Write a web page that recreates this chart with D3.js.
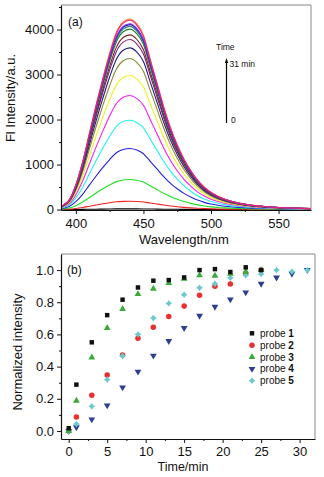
<!DOCTYPE html>
<html>
<head>
<meta charset="utf-8">
<script src="https://cdn.jsdelivr.net/npm/d3@7"></script>
<style>
  html, body { margin: 0; padding: 0; background: #fff; }
  svg text { font-family: Arial, "Liberation Sans", sans-serif; fill: #111; }
</style>
</head>
<body>
<svg id="chart" width="324" height="477"></svg>
<script>
// ---------- Panel (a) data: emission spectra ----------
const wavelengths = [389, 392, 395, 400, 405, 410, 415, 420, 425, 430, 435, 440, 445, 450, 455, 460, 465, 470, 475, 480, 485, 490, 495, 500, 505, 510, 520, 530, 540, 550, 560, 574];
// normalized band shape
const bandShape = [0.015, 0.03, 0.05, 0.13, 0.25, 0.40, 0.55, 0.69, 0.82, 0.93, 0.985, 1.0, 0.975, 0.915, 0.79, 0.665, 0.54, 0.43, 0.34, 0.265, 0.205, 0.155, 0.118, 0.09, 0.07, 0.055, 0.035, 0.023, 0.016, 0.011, 0.008, 0.005];
// peak intensity of each spectrum (t = 0 ... 31 min)
const peakIntensity = [15, 185, 667, 1356, 1985, 2533, 2978, 3356, 3593, 3778, 3881, 4010, 4070, 4110, 4235, 4130, 4205];
const spectrumColors = ["#000000", "#f02020", "#22dd22", "#2020dd", "#22f0f0", "#f020f0", "#f0f020", "#8a8a30", "#202080", "#802080", "#802020", "#208020", "#208080", "#2020a0", "#f08020", "#8020f0", "#f02080"];
const yTicksA = [0, 1000, 2000, 3000, 4000];
const xTicksA = [400, 450, 500, 550];

// ---------- Panel (b) data: normalized intensity vs time ----------
const times = [0, 1, 3, 5, 7, 9, 11, 13, 15, 17, 19, 21, 23, 25, 27, 29, 31];
const probe1 = [0.017, 0.288, 0.551, 0.72, 0.816, 0.892, 0.934, 0.938, 0.954, 1.0, 1.006, 0.988, 1.017, 1.0];
const probe2 = [0.0, 0.087, 0.222, 0.348, 0.472, 0.576, 0.644, 0.712, 0.776, 0.843, 0.899, 0.913, 0.98, 1.0];
const probe3 = [0.0, 0.188, 0.457, 0.64, 0.758, 0.851, 0.884, 0.919, 0.946, 0.967, 0.965, 0.977, 0.99, 1.0];
const probe4 = [0.0, 0.023, 0.072, 0.159, 0.271, 0.369, 0.468, 0.559, 0.64, 0.716, 0.772, 0.818, 0.861, 0.915, 0.954, 0.977, 1.0];
const probe5 = [0.0, 0.043, 0.153, 0.319, 0.466, 0.6, 0.702, 0.793, 0.847, 0.89, 0.915, 0.952, 0.967, 0.975, 1.0, 0.99, 1.0];
const probeNames = ["1", "2", "3", "4", "5"];
const probeColors = ["#111111", "#e8302e", "#3aaa3a", "#2c3e8e", "#6cc8cc"];
const yTicksB = [0.0, 0.2, 0.4, 0.6, 0.8, 1.0];
const xTicksB = [0, 5, 10, 15, 20, 25, 30];

const svg = d3.select("#chart");

function frame(g, x0, x1, y0, y1) {
  g.append("line").attr("x1", x0).attr("x2", x1).attr("y1", y0).attr("y2", y0).attr("stroke", "#888").attr("stroke-width", 1);
  g.append("line").attr("x1", x1).attr("x2", x1).attr("y1", y0).attr("y2", y1).attr("stroke", "#888").attr("stroke-width", 1);
}

function styleAxis(sel) {
  sel.selectAll(".domain").attr("stroke", "#111").attr("stroke-width", 1.2);
  sel.selectAll(".tick line").attr("stroke", "#111");
  sel.selectAll(".tick text").attr("font-size", 13).attr("font-family", "Arial, 'Liberation Sans', sans-serif").attr("fill", "#111");
}

// custom filled "plus/diamond" marker for probe 5
const plusDiamond = {
  draw(ctx, size) {
    const r = Math.sqrt(size) * 0.62, w = r * 0.42;
    ctx.moveTo(0, -r);
    ctx.lineTo(w, -w);
    ctx.lineTo(r, 0);
    ctx.lineTo(w, w);
    ctx.lineTo(0, r);
    ctx.lineTo(-w, w);
    ctx.lineTo(-r, 0);
    ctx.lineTo(-w, -w);
    ctx.closePath();
  }
};

// ================= Panel (a) =================
{
  const L = 61, R = 311, T = 5, B = 210;
  const x = d3.scaleLinear().domain([389, 574]).range([L, R]);
  const y = d3.scaleLinear().domain([-10, 4545]).range([B, T]);
  const g = svg.append("g");

  svg.append("defs").append("clipPath").attr("id", "clipA")
    .append("rect").attr("x", L).attr("y", T).attr("width", R - L).attr("height", B - T);

  const line = d3.line().x(d => x(d[0])).y(d => y(d[1])).curve(d3.curveMonotoneX);
  const curves = g.append("g").attr("clip-path", "url(#clipA)");
  peakIntensity.forEach((pk, i) => {
    const pts = wavelengths.map((w, j) => [w, bandShape[j] * pk]);
    curves.append("path").attr("d", line(pts)).attr("fill", "none")
      .attr("stroke", spectrumColors[i]).attr("stroke-width", 1.1);
  });

  frame(g, L, R, T, B);

  // minor ticks
  const yMinor = d3.axisLeft(y).tickValues([500, 1500, 2500, 3500, 4500]).tickSize(2).tickFormat("");
  const xMinor = d3.axisBottom(x).tickValues([425, 475, 525]).tickSize(2).tickFormat("");
  const ym = g.append("g").attr("transform", `translate(${L},0)`).call(yMinor);
  ym.select(".domain").remove(); ym.selectAll("line").attr("stroke", "#111");
  const xm = g.append("g").attr("transform", `translate(0,${B})`).call(xMinor);
  xm.select(".domain").remove(); xm.selectAll("line").attr("stroke", "#111");

  const ya = g.append("g").attr("transform", `translate(${L},0)`)
    .call(d3.axisLeft(y).tickValues(yTicksA).tickFormat(d3.format("d")).tickSize(4).tickSizeOuter(0).tickPadding(3));
  styleAxis(ya);
  const xa = g.append("g").attr("transform", `translate(0,${B})`)
    .call(d3.axisBottom(x).tickValues(xTicksA).tickFormat(d3.format("d")).tickSize(4).tickSizeOuter(0).tickPadding(5));
  styleAxis(xa);

  g.append("text").attr("x", 184).attr("y", 244).attr("text-anchor", "middle").attr("font-size", 13).text("Wavelength/nm");
  g.append("text").attr("transform", "translate(15,98) rotate(-90)").attr("text-anchor", "middle").attr("font-size", 13).text("Fl Intensity/a.u.");
  g.append("text").attr("x", 68).attr("y", 26).attr("font-size", 12).text("(a)");

  // time arrow annotation
  g.append("text").attr("x", 216).attr("y", 50).attr("font-size", 8.5).text("Time");
  g.append("line").attr("x1", 226.5).attr("x2", 226.5).attr("y1", 123).attr("y2", 62).attr("stroke", "#000").attr("stroke-width", 1.2);
  g.append("path").attr("d", "M226.5,58 L224.8,63 L228.2,63 Z").attr("fill", "#000");
  g.append("text").attr("x", 229.5).attr("y", 67).attr("font-size", 8.5).text("31 min");
  g.append("text").attr("x", 231).attr("y", 123).attr("font-size", 8.5).text("0");
}

// ================= Panel (b) =================
{
  const L = 61, R = 315, T = 254, B = 439;
  const x = d3.scaleLinear().domain([-1, 32]).range([L, R]);
  const y = d3.scaleLinear().domain([-0.05, 1.1]).range([B, T]);
  const g = svg.append("g");

  frame(g, L, R, T, B);

  const yMinor = d3.axisLeft(y).tickValues([0.1, 0.3, 0.5, 0.7, 0.9]).tickSize(2).tickFormat("");
  const xMinor = d3.axisBottom(x).tickValues([2.5, 7.5, 12.5, 17.5, 22.5, 27.5]).tickSize(2).tickFormat("");
  const ym = g.append("g").attr("transform", `translate(${L},0)`).call(yMinor);
  ym.select(".domain").remove(); ym.selectAll("line").attr("stroke", "#111");
  const xm = g.append("g").attr("transform", `translate(0,${B})`).call(xMinor);
  xm.select(".domain").remove(); xm.selectAll("line").attr("stroke", "#111");

  const ya = g.append("g").attr("transform", `translate(${L},0)`)
    .call(d3.axisLeft(y).tickValues(yTicksB).tickFormat(d3.format(".1f")).tickSize(4).tickSizeOuter(0).tickPadding(3));
  styleAxis(ya);
  const xa = g.append("g").attr("transform", `translate(0,${B})`)
    .call(d3.axisBottom(x).tickValues(xTicksB).tickFormat(d3.format("d")).tickSize(4).tickSizeOuter(0).tickPadding(4));
  styleAxis(xa);

  g.append("text").attr("x", 183).attr("y", 471).attr("text-anchor", "middle").attr("font-size", 12.5).text("Time/min");
  g.append("text").attr("transform", "translate(22,352) rotate(-90)").attr("text-anchor", "middle").attr("font-size", 13).text("Normalized intensity");
  g.append("text").attr("x", 67).attr("y", 274).attr("font-size", 12).text("(b)");

  const symbols = [
    d3.symbol().type(d3.symbolSquare).size(20),
    d3.symbol().type(d3.symbolCircle).size(24),
    d3.symbol().type(d3.symbolTriangle).size(20),
    d3.symbol().type(d3.symbolTriangle).size(20),
    d3.symbol().type(plusDiamond).size(30)
  ];
  const rotations = [0, 0, 0, 180, 0];
  const series = [probe1, probe2, probe3, probe4, probe5];
  [3, 1, 4, 2, 0].forEach(k => {
    g.append("g").selectAll("path").data(series[k]).join("path")
      .attr("transform", (d, i) => `translate(${x(times[i])},${y(d)}) rotate(${rotations[k]})`)
      .attr("d", symbols[k]()).attr("fill", probeColors[k]);
  });

  // legend
  const leg = g.append("g");
  probeNames.forEach((nm, k) => {
    const cy = 333.3 + k * 11.85;
    leg.append("path").attr("transform", `translate(252,${cy}) rotate(${rotations[k]})`).attr("d", symbols[k]()).attr("fill", probeColors[k]);
    const t = leg.append("text").attr("x", 260).attr("y", cy + 3.6).attr("font-size", 10);
    t.append("tspan").text("probe ");
    t.append("tspan").attr("font-weight", "bold").text(nm);
  });
}
</script>
</body>
</html>
